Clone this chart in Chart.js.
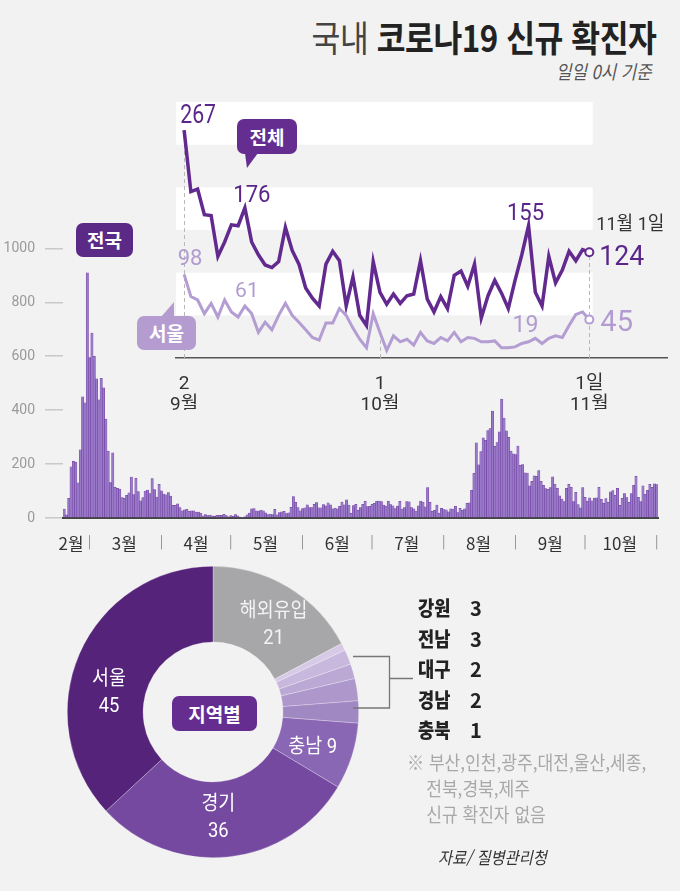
<!DOCTYPE html>
<html lang="ko">
<head>
<meta charset="UTF-8" />
<meta name="viewport" content="width=device-width, initial-scale=1.0" />
<title>국내 코로나19 신규 확진자</title>
<script src="https://cdn.jsdelivr.net/npm/chart.js"></script>
<style>
  html, body { margin: 0; padding: 0; background: #f2f2f2; }
  #board { position: relative; width: 680px; height: 891px; overflow: hidden; background: #f2f2f2;
           font-family: "Noto Sans CJK KR", "Noto Sans", sans-serif; color: #222; }
  .abs { position: absolute; }
  #title { right: 24px; top: 18px; font-size: 36px; line-height: 1; font-weight: 700; white-space: nowrap;
           transform: scaleX(0.87); transform-origin: right center; letter-spacing: -0.5px; color: #222; }
  #title span { font-weight: 400; color: #444; }
  #sub { right: 28px; top: 61px; font-size: 19px; line-height: 1; font-style: italic; color: #555; white-space: nowrap;
         transform: scaleX(0.88); transform-origin: right center; }
  .tag { color: #fff; font-weight: 700; font-size: 19px; text-align: center; border-radius: 7px; }
  #legend { left: 418px; top: 598px; }
  .row { height: 30.5px; font-size: 20px; line-height: 1; font-weight: 700; color: #222; white-space: nowrap; }
  .row b { display: inline-block; width: 52px; transform: scaleX(0.88); transform-origin: left center; }
  #note { left: 407px; top: 749px; font-size: 19px; line-height: 26px; color: #a8a8a8; white-space: nowrap;
          transform: scaleX(0.9); transform-origin: left top; }
  #source { left: 438px; top: 848px; font-size: 17px; line-height: 1; font-style: italic; color: #333; white-space: nowrap;
            transform: scaleX(0.9); transform-origin: left top; }
  canvas { position: absolute; }
</style>
</head>
<body>
<div id="board">
  <div id="title" class="abs"><span>국내</span> 코로나19 신규 확진자</div>
  <div id="sub" class="abs">일일 0시 기준</div>

  <canvas id="barChart" width="680" height="330" style="left:0;top:230px"></canvas>
  <canvas id="insetChart" width="510" height="315" style="left:170px;top:95px"></canvas>
  <canvas id="donutChart" width="292" height="292" style="left:67px;top:566px"></canvas>

  <div class="abs tag" style="left:76px;top:223px;width:57px;height:34px;line-height:34px;background:#5b2a87">전국</div>
  <div class="abs tag" style="left:237px;top:119px;width:60px;height:35px;line-height:35px;background:#662d91">전체</div>
  <div class="abs" style="left:245px;top:153px;width:13px;height:15px;background:#662d91;clip-path:polygon(0 0,100% 0,15% 100%)"></div>
  <div class="abs tag" style="left:137px;top:316px;width:59px;height:34px;line-height:34px;background:#b49cd1">서울</div>
  <div class="abs" style="left:161px;top:302px;width:13px;height:15px;background:#b49cd1;clip-path:polygon(100% 0,100% 100%,0 100%)"></div>
  <div class="abs tag" style="left:172px;top:696px;width:85px;height:35px;line-height:35px;background:#662d91">지역별</div>

  <svg class="abs" style="left:0;top:0;pointer-events:none" width="680" height="891">
    <path d="M353 656.5 H389.5 V708 H353 M389.5 678.5 H413" fill="none" stroke="#777" stroke-width="1.3" />
  </svg>

  <div id="legend" class="abs"></div>
  <div id="note" class="abs">※ 부산,인천,광주,대전,울산,세종,<br>&nbsp;&nbsp;&nbsp;&nbsp;전북,경북,제주<br>&nbsp;&nbsp;&nbsp;&nbsp;신규 확진자 없음</div>
  <div id="source" class="abs">자료/ 질병관리청</div>
</div>

<script>
// 전국 일별 신규 확진자 (0시 기준), 2/19 ~ 11/1
const natFeb = [33, 12, 73, 190, 210, 207, 130, 253, 449, 427, 909];
const natMar = [595, 686, 600, 516, 438, 518, 483, 367, 248, 131, 242, 114, 110, 107, 76, 74, 84, 93, 152, 87,
                147, 98, 64, 76, 100, 104, 91, 146, 105, 78, 125];
const natApr = [101, 89, 86, 94, 81, 47, 47, 53, 39, 27, 30, 32, 25, 27, 27, 22, 22, 18, 8, 13,
                9, 11, 8, 6, 10, 10, 10, 14, 9, 4];
const natMay = [9, 6, 13, 8, 3, 2, 4, 12, 18, 34, 35, 27, 26, 29, 27, 19, 13, 15, 13, 32,
                12, 20, 23, 25, 16, 19, 40, 79, 58, 39, 27];
const natJun = [35, 38, 49, 39, 39, 51, 57, 38, 38, 50, 45, 56, 49, 34, 37, 34, 43, 59, 49, 67,
                48, 17, 46, 51, 28, 39, 51, 62, 42, 43];
const natJul = [51, 54, 63, 63, 61, 48, 44, 63, 50, 45, 35, 44, 62, 33, 39, 61, 60, 39, 34, 26,
                45, 63, 59, 41, 113, 58, 25, 28, 48, 18, 36];
const natAug = [31, 30, 23, 34, 33, 43, 20, 36, 28, 34, 54, 56, 103, 166, 279, 197, 246, 297, 288, 324,
                332, 397, 266, 280, 320, 441, 371, 323, 299, 248, 238];
const natSep = [235, 267, 195, 198, 168, 167, 119, 136, 156, 155, 176, 136, 121, 109, 106, 113, 153, 126, 110, 82,
                70, 61, 110, 125, 114, 61, 95, 50, 38, 113];
const natOct = [77, 63, 75, 64, 73, 75, 114, 69, 54, 72, 58, 97, 102, 84, 110, 47, 73, 91, 76, 58,
                91, 121, 155, 77, 61, 119, 88, 103, 125, 114, 127];
const natNov = [124];

// 서울 신규 확진자, 9/2 ~ 11/1
const seoulSep = [98, 72, 68, 52, 64, 48, 68, 54, 48, 61, 52, 30, 42, 33, 50, 64, 50, 42, 33, 24,
                  21, 41, 41, 58, 50, 35, 22, 12, 52];
const seoulOct = [30, 9, 26, 19, 22, 15, 30, 20, 17, 24, 20, 30, 19, 24, 23, 19, 19, 20, 12, 12,
                  13, 17, 19, 23, 17, 23, 26, 24, 38, 51, 54];
const seoulNov = [45];

const monthTickLabels = ['2월', '3월', '4월', '5월', '6월', '7월', '8월', '9월', '10월'];
const monthTickDates = ['2/22', '3/16', '4/16', '5/16', '6/16', '7/16', '8/16', '9/16', '10/16'];
const monthSepDates = ['3/1', '4/1', '5/1', '6/1', '7/1', '8/1', '9/1', '10/1', '11/1'];

const insetTickIndex = [0, 29, 60];
const insetTickLabels = [['2', '9월'], ['1', '10월'], ['1일', '11월']];

// 지역별 (11월 1일)
const regionNames = ['해외유입', '충북', '경남', '대구', '전남', '강원', '충남', '경기', '서울'];
const regionValues = [21, 1, 2, 2, 3, 3, 9, 36, 45];
const legendRegions = ['강원', '전남', '대구', '경남', '충북'];

// ---- derived ----
const natDaily = [].concat(natFeb, natMar, natApr, natMay, natJun, natJul, natAug, natSep, natOct, natNov);
const dayLabels = natDaily.map((_, i) => {
  const d = new Date(2020, 1, 19 + i);
  return (d.getMonth() + 1) + '/' + d.getDate();
});
const axisText = dayLabels.map(lab => {
  if (monthSepDates.includes(lab)) return '|';
  const k = monthTickDates.indexOf(lab);
  return k >= 0 ? monthTickLabels[k] : '';
});

const totalDaily = natSep.slice(1).concat(natOct, natNov);
const seoulDaily = seoulSep.concat(seoulOct, seoulNov);
const toPoints = arr => arr.map((v, i) => ({ x: i, y: v }));
const lastIdx = totalDaily.length - 1;

const DARK = '#62298f';
const LIGHT = '#b39dd2';
const NUM_FONT = 'Roboto, "Noto Sans CJK KR", sans-serif';

// ---- bar chart (전국) ----
new Chart(document.getElementById('barChart'), {
  type: 'bar',
  data: {
    labels: dayLabels,
    datasets: [{
      data: natDaily,
      backgroundColor: '#9a79c8',
      borderColor: '#6b3b9e',
      borderWidth: 0.5,
      barPercentage: 1,
      categoryPercentage: 1
    }]
  },
  options: {
    responsive: false,
    animation: false,
    layout: { padding: { top: 15, right: 22, left: 0, bottom: 0 } },
    plugins: { legend: { display: false }, tooltip: { enabled: false } },
    scales: {
      x: {
        grid: { display: false },
        border: { display: true, color: '#444', width: 2 },
        ticks: {
          autoSkip: false,
          maxRotation: 0,
          minRotation: 0,
          padding: 7,
          color: c => axisText[c.index] === '|' ? '#888' : '#333',
          font: c => ({ size: axisText[c.index] === '|' ? 13 : 17, family: '"Noto Sans CJK KR", Roboto, sans-serif' }),
          callback: (v, i) => axisText[i]
        },
        afterFit: s => { s.height = 42; }
      },
      y: {
        min: 0,
        max: 1000,
        ticks: { stepSize: 200, color: '#9a9a9a', padding: 10, font: { size: 14, family: NUM_FONT },
                 callback: v => String(v) },
        grid: { drawOnChartArea: false, tickLength: 18, color: '#c9c9c9', lineWidth: 1.5 },
        border: { display: false },
        afterFit: s => { s.width = 63; }
      }
    }
  }
});

// ---- inset line chart (9/2 ~ 11/1) ----
const bandRanges = [[50, 100], [150, 200], [250, 300]];
const guideLines = [[0, 'total'], [29, 'seoul'], [60, 'total']];
const insetNotes = [
  { s: 'total', i: 0, dx: 14, dy: -7, size: 25, sx: 0.85, align: 'center', color: '#5a2689' },
  { s: 'total', i: 9, dx: 7, dy: -6, size: 24, sx: 0.92, align: 'center', color: '#5a2689' },
  { s: 'total', i: 51, dx: -3, dy: -6, size: 24, sx: 0.92, align: 'center', color: '#5a2689' },
  { s: 'total', i: 60, dx: 10, dy: 13, size: 28, sx: 0.95, align: 'left', color: '#5a2689' },
  { s: 'total', i: 60, dx: 41, dy: -22, size: 19, sx: 0.95, align: 'center', color: '#333', text: '11월 1일' },
  { s: 'seoul', i: 0, dx: 6, dy: -9, size: 22, sx: 1, align: 'center', color: '#b19bd0' },
  { s: 'seoul', i: 9, dx: 2, dy: -9, size: 21, sx: 1, align: 'center', color: '#b19bd0' },
  { s: 'seoul', i: 51, dx: -3, dy: -10, size: 23, sx: 1, align: 'center', color: '#b19bd0' },
  { s: 'seoul', i: 60, dx: 11, dy: 11, size: 29, sx: 1, align: 'left', color: '#b19bd0' }
];

const insetDeco = {
  id: 'insetDeco',
  beforeDatasetsDraw(chart) {
    const { ctx, chartArea, scales: { x, y } } = chart;
    ctx.save();
    ctx.fillStyle = '#ffffff';
    const right = x.getPixelForValue(lastIdx + 0.5);
    bandRanges.forEach(([lo, hi]) => {
      const top = y.getPixelForValue(hi);
      ctx.fillRect(chartArea.left, top, right - chartArea.left, y.getPixelForValue(lo) - top);
    });
    ctx.strokeStyle = '#b8b8b8';
    ctx.lineWidth = 1;
    ctx.setLineDash([4, 3]);
    guideLines.forEach(([idx, which]) => {
      const px = Math.round(x.getPixelForValue(idx)) + 0.5;
      const v = which === 'total' ? totalDaily[idx] : seoulDaily[idx];
      ctx.beginPath();
      ctx.moveTo(px, y.getPixelForValue(0));
      ctx.lineTo(px, y.getPixelForValue(v));
      ctx.stroke();
    });
    ctx.restore();
  },
  afterDatasetsDraw(chart) {
    const { ctx, scales: { x, y } } = chart;
    insetNotes.forEach(n => {
      const arr = n.s === 'total' ? totalDaily : seoulDaily;
      const text = n.text || String(arr[n.i]);
      ctx.save();
      ctx.translate(x.getPixelForValue(n.i) + n.dx, y.getPixelForValue(arr[n.i]) + n.dy);
      ctx.scale(n.sx, 1);
      ctx.font = `${n.size}px ${NUM_FONT}`;
      ctx.fillStyle = n.color;
      ctx.textAlign = n.align;
      ctx.textBaseline = 'alphabetic';
      ctx.fillText(text, 0, 0);
      ctx.restore();
    });
  }
};

const lastOnly = r => c => c.dataIndex === lastIdx ? r : 0;

new Chart(document.getElementById('insetChart'), {
  type: 'line',
  data: {
    datasets: [
      { label: '서울', data: toPoints(seoulDaily), borderColor: LIGHT, borderWidth: 3, tension: 0,
        pointRadius: lastOnly(4), pointBackgroundColor: '#ffffff', pointBorderColor: LIGHT, pointBorderWidth: 2 },
      { label: '전체', data: toPoints(totalDaily), borderColor: DARK, borderWidth: 3.5, tension: 0,
        pointRadius: lastOnly(4), pointBackgroundColor: '#ffffff', pointBorderColor: DARK, pointBorderWidth: 2 }
    ]
  },
  options: {
    responsive: false,
    animation: false,
    layout: { padding: { top: 7, left: 5, right: 13, bottom: 0 } },
    plugins: { legend: { display: false }, tooltip: { enabled: false } },
    scales: {
      x: {
        type: 'linear',
        min: -1.2,
        max: 71.5,
        grid: { display: false },
        border: { display: true, color: '#555', width: 1.5 },
        afterBuildTicks: s => { s.ticks = insetTickIndex.map(v => ({ value: v })); },
        ticks: {
          autoSkip: false,
          maxRotation: 0,
          padding: 8,
          color: '#333',
          font: { size: 19, family: NUM_FONT, lineHeight: 1.1 },
          callback: v => insetTickLabels[insetTickIndex.indexOf(v)]
        },
        afterFit: s => { s.height = 52; s.paddingLeft = 0; s.paddingRight = 0; }
      },
      y: { display: false, min: 0, max: 300 }
    }
  },
  plugins: [insetDeco]
});

// ---- doughnut (지역별) ----
const regionColors = ['#a7a7a9', '#d6cae6', '#c8b8dd', '#bba8d4', '#ad97cb', '#a088c2', '#8a67b4', '#74499f', '#55237a'];
const donutLabelled = { '해외유입': 4, '충남': 2, '경기': 3, '서울': -13 }; // label angle nudge (deg)

const donutLabels = {
  id: 'donutLabels',
  afterDatasetsDraw(chart) {
    const { ctx } = chart;
    chart.getDatasetMeta(0).data.forEach((arc, i) => {
      const name = regionNames[i];
      if (!(name in donutLabelled)) return;
      const p = arc.getProps(['x', 'y', 'startAngle', 'endAngle', 'innerRadius', 'outerRadius'], true);
      const a = (p.startAngle + p.endAngle) / 2 + donutLabelled[name] * Math.PI / 180;
      const r = (p.innerRadius + p.outerRadius) / 2 - 2;
      const cx = p.x + Math.cos(a) * r;
      const cy = p.y + Math.sin(a) * r;
      ctx.save();
      ctx.translate(cx, cy);
      ctx.scale(0.92, 1);
      ctx.fillStyle = name === '해외유입' ? '#f3f3f3' : '#ffffff';
      ctx.textAlign = 'center';
      ctx.textBaseline = 'middle';
      ctx.font = `20px ${NUM_FONT}`;
      if (name === '충남') {
        ctx.fillText(name + ' ' + regionValues[i], 0, 0);
      } else {
        ctx.fillText(name, 0, -13);
        ctx.fillText(String(regionValues[i]), 0, 14);
      }
      ctx.restore();
    });
  }
};

new Chart(document.getElementById('donutChart'), {
  type: 'doughnut',
  data: {
    labels: regionNames,
    datasets: [{
      data: regionValues,
      backgroundColor: regionColors,
      borderColor: 'rgba(255,255,255,0.45)',
      borderWidth: 0.6
    }]
  },
  options: {
    responsive: false,
    animation: false,
    cutout: '48%',
    plugins: { legend: { display: false }, tooltip: { enabled: false } }
  },
  plugins: [donutLabels]
});

// legend list for the small regions
document.getElementById('legend').innerHTML = legendRegions
  .map(n => `<div class="row"><b>${n}</b>${regionValues[regionNames.indexOf(n)]}</div>`)
  .join('');
</script>
</body>
</html>
